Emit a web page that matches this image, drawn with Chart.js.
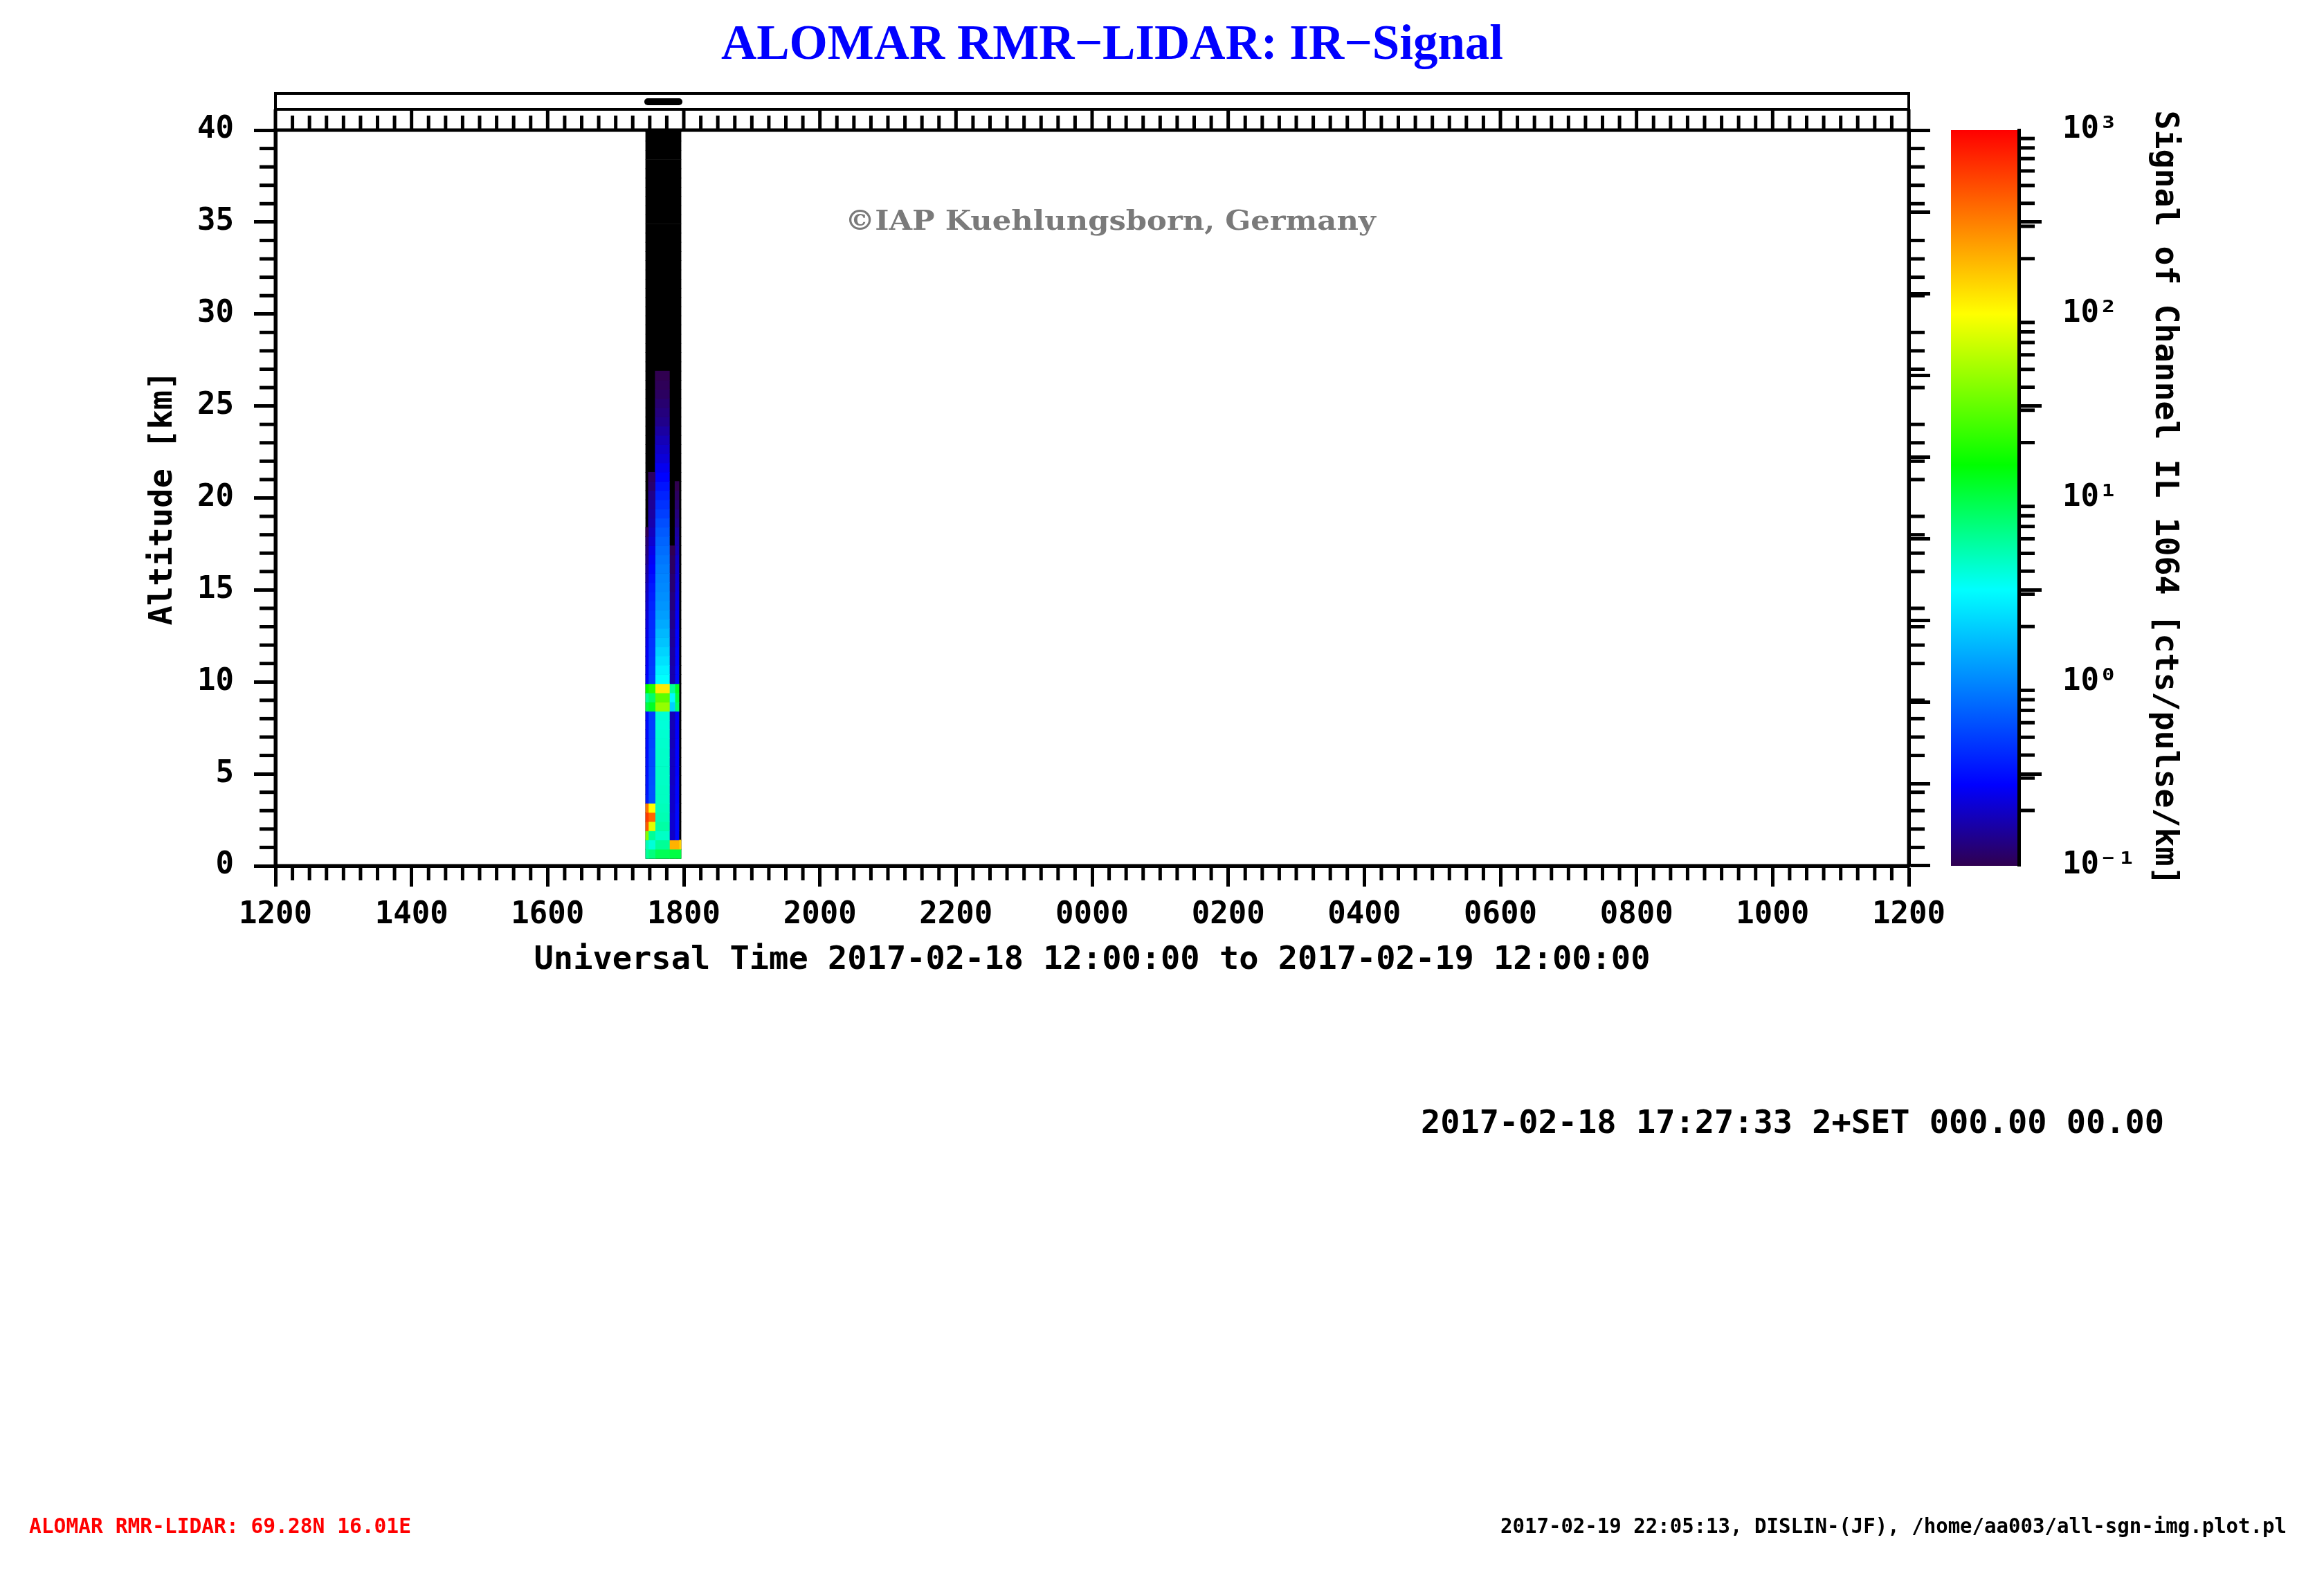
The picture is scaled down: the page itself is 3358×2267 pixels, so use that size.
<!DOCTYPE html>
<html>
<head>
<meta charset="utf-8">
<title>ALOMAR RMR-LIDAR: IR-Signal</title>
<script src="https://cdn.jsdelivr.net/npm/chart.js@4.4.1/dist/chart.umd.min.js"></script>
<style>
  html, body { margin: 0; background: #fff; }
  #wrap { position: relative; width: 3358px; height: 2267px; }
  #plot { position: absolute; left: 0; top: 0; }
  .note { position: absolute; white-space: nowrap; transform-origin: 0 50%; }
</style>
</head>
<body>
<div id="wrap">
  <canvas id="plot" width="3358" height="2267"></canvas>
  <div class="note" id="copyNote">©IAP Kuehlungsborn, Germany</div>
  <div class="note" id="stampNote">2017-02-18 17:27:33 2+SET 000.00 00.00</div>
  <div class="note" id="siteNote">ALOMAR RMR-LIDAR: 69.28N 16.01E</div>
  <div class="note" id="fileNote">2017-02-19 22:05:13, DISLIN-(JF), /home/aa003/all-sgn-img.plot.pl</div>
</div>
<script>
// altitude grid: 0.5 km bins from 0.4 km up
const binBase = 0.4;
const binKm = 0.5;
const nBins = 80;
const altCentres = Array.from({ length: nBins }, (_, k) => +(binBase + binKm * (k + 0.5)).toFixed(2));

// sub-column edges of the measurement, UT hours (24 = midnight)
const timeEdges = [17.44, 17.48, 17.58, 17.79, 17.87, 17.93, 17.96];

// signal per bin, bottom up (cts/pulse/km); bins above the list are below 0.1
const sigA = [6, 5, 40, 450, 600, 350,
  0.35, 0.33, 0.33, 0.32, 0.32, 0.31, 0.31, 0.3, 0.3, 0.3,
  10, 6, 15,
  0.28, 0.27, 0.26, 0.26, 0.25, 0.24, 0.23, 0.22, 0.21, 0.2, 0.19, 0.17, 0.16, 0.14, 0.13, 0.12, 0.1];
const sigB = [7, 4, 6, 80, 400, 100,
  0.6, 0.6, 0.58, 0.57, 0.55, 0.55, 0.53, 0.52, 0.5, 0.5,
  12, 8, 20,
  0.5, 0.48, 0.46, 0.45, 0.44, 0.42, 0.41, 0.4, 0.38, 0.36, 0.34, 0.31, 0.28, 0.26, 0.24, 0.21,
  0.19, 0.17, 0.16, 0.15, 0.14, 0.12, 0.11];
const sigC = [9, 6, 4.5, 5.5, 5, 4.8,
  4.6, 4.6, 4.5, 4.5, 4.4, 4.4, 4.3, 4.2, 4.0, 4.1,
  45, 30, 120,
  3.2, 2.8, 2.4, 2.1, 1.8, 1.6, 1.4, 1.25,
  1.15, 1.08, 1.02, 0.97, 0.92, 0.85, 0.78, 0.72, 0.65, 0.58, 0.5, 0.44, 0.38, 0.33, 0.28,
  0.25, 0.22, 0.2, 0.18, 0.16, 0.14, 0.13, 0.12, 0.11, 0.105, 0.1];
const sigD = [10, 200,
  0.2, 0.21, 0.21, 0.2, 0.2, 0.2, 0.19, 0.19, 0.19, 0.19, 0.18, 0.18, 0.18, 0.18,
  2, 3, 6,
  0.17, 0.17, 0.16, 0.16, 0.15, 0.15, 0.14, 0.14, 0.13, 0.13, 0.12, 0.12, 0.11, 0.11, 0.1];
const sigE = [10, 200,
  0.3, 0.3, 0.3, 0.3, 0.29, 0.29, 0.29, 0.28, 0.28, 0.28, 0.28, 0.27, 0.27, 0.27,
  8, 10, 12,
  0.3, 0.3, 0.29, 0.29, 0.28, 0.28, 0.27, 0.26, 0.25, 0.24, 0.23, 0.22, 0.21, 0.2, 0.18,
  0.17, 0.16, 0.14, 0.13, 0.12, 0.11, 0.1];
const sigF = [10, 150];

const hourTicks = [12, 14, 16, 18, 20, 22, 24, 26, 28, 30, 32, 34, 36];
const xTickLabels = ["1200", "1400", "1600", "1800", "2000", "2200", "0000",
  "0200", "0400", "0600", "0800", "1000", "1200"];
const cbTicks = [0.1, 1, 10, 100, 1000];
const cbTickLabels = ["10⁻¹", "10⁰", "10¹", "10²", "10³"];

// rainbow colour table, position along log10(0.1 .. 1000)
const cmapStops = [
  [0, [48, 0, 80]],
  [0.11, [0, 0, 255]],
  [0.375, [0, 255, 255]],
  [0.545, [0, 255, 0]],
  [0.75, [255, 255, 0]],
  [1, [255, 0, 0]]
];

function sigColor(v) {
  if (!(v >= 0.1)) return "#000";
  const t = Math.min(1, (Math.log10(v) + 1) / 4);
  for (let i = 1; i < cmapStops.length; i++) {
    const [t1, c1] = cmapStops[i];
    if (t <= t1) {
      const [t0, c0] = cmapStops[i - 1];
      const f = (t - t0) / (t1 - t0);
      return "rgb(" + c0.map((c, j) => Math.round(c + (c1[j] - c) * f)).join(",") + ")";
    }
  }
  return "rgb(255,0,0)";
}

const cols = [sigA, sigB, sigC, sigD, sigE, sigF];
const noSignal = {
  data: altCentres.map(a => ({ y: a, x: [timeEdges[0], timeEdges[timeEdges.length - 1]], v: 0 })),
  order: 1
};
const colSets = cols.map((vals, i) => ({
  data: vals.map((v, k) => ({ y: altCentres[k], x: [timeEdges[i], timeEdges[i + 1]], v })),
  order: 0
}));

const frame = {
  id: "frame",
  beforeDraw(chart) {
    const { ctx, scales: { cb } } = chart;
    const g = ctx.createLinearGradient(0, cb.getPixelForValue(0.1), 0, cb.getPixelForValue(1000));
    cmapStops.forEach(([t, c]) => g.addColorStop(t, "rgb(" + c.join(",") + ")"));
    ctx.save();
    ctx.fillStyle = g;
    ctx.fillRect(cb.left - 98, cb.top, 98, cb.bottom - cb.top);
    ctx.restore();
  },
  afterDraw(chart) {
    const { ctx, chartArea: a, scales: { x, y, cb } } = chart;
    const seg = (x1, y1, x2, y2) => { ctx.beginPath(); ctx.moveTo(x1, y1); ctx.lineTo(x2, y2); ctx.stroke(); };
    ctx.save();
    ctx.strokeStyle = "#000";
    ctx.lineWidth = 5;
    ctx.strokeRect(a.left, a.top, a.right - a.left, a.bottom - a.top);

    // time strip above the plot
    const sTop = a.top - 53, sMid = a.top - 30;
    ctx.lineWidth = 4;
    ctx.strokeRect(a.left, sTop, a.right - a.left, a.top - sTop);
    seg(a.left, sMid, a.right, sMid);

    ctx.lineWidth = 5;
    for (let q = 0; q <= 96; q++) {
      const px = x.getPixelForValue(12 + q / 4);
      const major = q % 8 === 0;
      seg(px, a.top, px, major ? sMid : a.top - 21);
      if (!major) seg(px, a.bottom, px, a.bottom + 21);
    }
    for (let km = 1; km < 40; km++) {
      if (km % 5 === 0) continue;
      const py = y.getPixelForValue(km);
      seg(a.left - 23, py, a.left, py);
      seg(a.right, py, a.right + 23, py);
    }
    for (let d = -1; d < 3; d++) {
      for (let m = 2; m < 10; m++) {
        const py = cb.getPixelForValue(m * Math.pow(10, d));
        seg(cb.left, py, cb.left + 23, py);
      }
    }

    // measurement period marker
    ctx.lineWidth = 10;
    ctx.lineCap = "round";
    seg(x.getPixelForValue(timeEdges[0]) + 3, sTop + 12,
        x.getPixelForValue(timeEdges[timeEdges.length - 1]) - 3, sTop + 12);
    ctx.restore();
  }
};

Chart.defaults.font.family = "'DejaVu Sans Mono', monospace";
Chart.defaults.font.weight = "bold";
Chart.defaults.color = "#000";

new Chart(document.getElementById("plot"), {
  type: "bar",
  data: {
    datasets: [noSignal, ...colSets].map(d => Object.assign({
      grouped: false,
      barPercentage: 1,
      categoryPercentage: 1,
      borderWidth: 0,
      backgroundColor: c => (c.raw ? sigColor(c.raw.v) : "#000")
    }, d))
  },
  options: {
    indexAxis: "y",
    responsive: false,
    animation: false,
    events: [],
    layout: { padding: { left: 0, top: 0, right: 144, bottom: 816 } },
    plugins: {
      legend: { display: false },
      tooltip: { enabled: false },
      title: {
        display: true,
        text: "ALOMAR RMR−LIDAR: IR−Signal",
        color: "#0000ff",
        font: { family: "'Liberation Serif', serif", size: 71, weight: "bold" },
        padding: { top: 24.4, bottom: 78.4 }
      }
    },
    scales: {
      x: {
        type: "linear", position: "bottom", min: 12, max: 36,
        afterBuildTicks: s => { s.ticks = hourTicks.map(v => ({ value: v })); },
        ticks: { callback: (v, i) => xTickLabels[i], font: { size: 44 }, padding: 15, maxRotation: 0, autoSkip: false, color: "#000" },
        grid: { drawOnChartArea: false, drawTicks: true, tickLength: 30, tickWidth: 5, tickColor: "#000" },
        border: { display: true, width: 5, color: "#000" },
        title: {
          display: true,
          text: "Universal Time 2017-02-18 12:00:00 to 2017-02-19 12:00:00",
          font: { size: 47 }, color: "#000", padding: { top: 0, bottom: 35 }
        },
        afterFit: s => { s.height = 200; }
      },
      y: {
        type: "linear", position: "left", min: 0, max: 40, offset: false,
        ticks: { stepSize: 5, font: { size: 44 }, padding: 29, color: "#000" },
        grid: { offset: false, drawOnChartArea: false, tickLength: 31, tickWidth: 5, tickColor: "#000" },
        border: { display: true, width: 5, color: "#000" },
        title: { display: true, text: "Altitude [km]", font: { size: 47 }, color: "#000", padding: { top: 208, bottom: 0 } },
        afterFit: s => { s.width = 398; }
      },
      yR: {
        type: "linear", position: "right", min: 0, max: 40, weight: 0,
        ticks: { display: false, stepSize: 5 },
        grid: { drawOnChartArea: false, tickLength: 31, tickWidth: 5, tickColor: "#000" },
        border: { display: true, width: 5, color: "#000" },
        afterFit: s => { s.width = 159; }
      },
      cb: {
        type: "logarithmic", position: "right", min: 0.1, max: 1000, weight: 1,
        afterBuildTicks: s => { s.ticks = cbTicks.map(v => ({ value: v })); },
        ticks: { callback: (v, i) => cbTickLabels[i], font: { size: 44 }, padding: 30, color: "#000", autoSkip: false },
        grid: { drawOnChartArea: false, tickLength: 33, tickWidth: 5, tickColor: "#000" },
        border: { display: true, width: 5, color: "#000" },
        title: {
          display: true, text: "Signal of Channel IL 1064 [cts/pulse/km]",
          font: { size: 46.5 }, color: "#000", padding: { top: 59, bottom: 0 }
        },
        afterFit: s => { s.width = 297; }
      }
    }
  },
  plugins: [frame]
});

function placeNote(id, left, width, midY, size, font, color) {
  const el = document.getElementById(id);
  el.style.font = font;
  el.style.lineHeight = size + "px";
  el.style.color = color;
  el.style.left = left + "px";
  el.style.top = (midY - 0.48 * size) + "px";
  el.style.transform = "scaleX(" + (width / el.getBoundingClientRect().width) + ")";
}
placeNote("copyNote", 1221, 767, 318, 39, "bold 39px 'DejaVu Serif'", "#7a7a7a");
placeNote("stampNote", 2053, 1074, 1620, 46, "bold 46px 'DejaVu Sans Mono'", "#000");
placeNote("siteNote", 42, 552, 2204, 30, "bold 30px 'DejaVu Sans Mono'", "#ff0000");
placeNote("fileNote", 2168, 1136, 2204, 30, "bold 30px 'DejaVu Sans Mono'", "#000");
</script>
</body>
</html>
